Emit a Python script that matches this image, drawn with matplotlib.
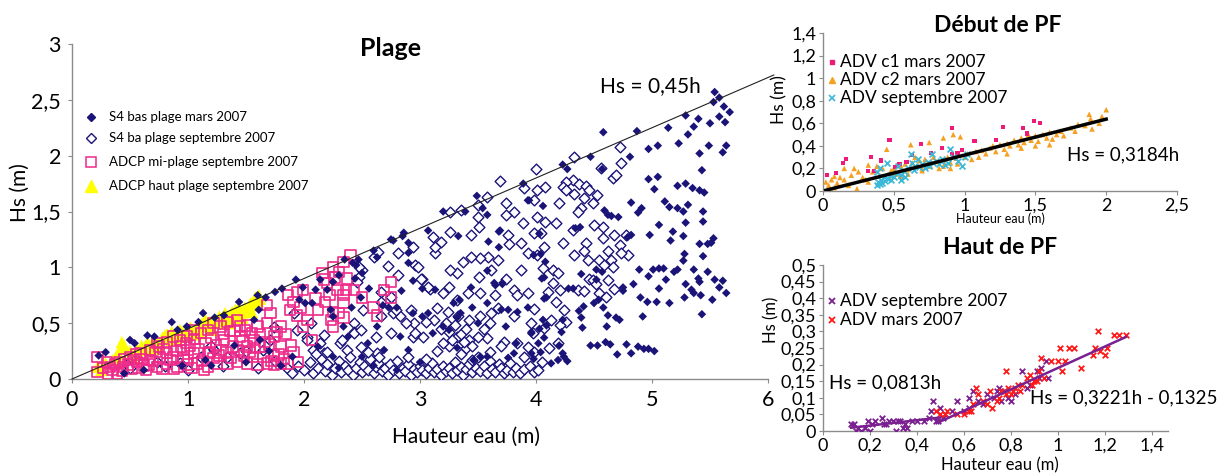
import numpy as np
import matplotlib
matplotlib.use("Agg")
import matplotlib.pyplot as plt
from matplotlib.lines import Line2D
from matplotlib.ticker import FuncFormatter

plt.rcParams['font.family'] = ['Lato', 'DejaVu Sans']

# ---------------- DATA: main chart "Plage" (h, Hs) ----------------
s4_mars = [
    (5.54,2.57),(5.58,2.52),(5.53,2.48),(5.62,2.44),(5.67,2.39),(5.58,2.35),(5.63,2.30),(5.50,2.29),
    (5.40,2.33),(5.36,2.26),(5.29,2.36),(5.14,2.25),(5.31,2.19),(5.23,2.11),(5.49,2.09),(5.64,2.09),
    (5.61,2.03),(5.41,2.02),(5.05,2.09),(4.97,2.06),(4.87,2.22),(4.58,2.21),(4.47,1.99),(4.81,1.99),
    (4.23,1.92),(4.27,1.88),(4.57,1.88),(5.43,1.87),(4.97,1.79),(5.05,1.81),(5.22,1.73),(5.29,1.75),
    (5.35,1.71),(5.41,1.69),(5.45,1.67),(5.02,1.70),(4.82,1.58),(5.11,1.59),(5.15,1.54),(5.22,1.53),
    (5.27,1.50),(5.31,1.56),(4.91,1.53),(4.88,1.49),(4.65,1.46),(4.71,1.45),(4.59,1.51),(5.06,1.38),
    (5.29,1.40),(5.44,1.50),(5.44,1.41),(5.18,1.32),(5.27,1.28),(5.16,1.24),(4.98,1.29),(5.53,1.26),
    (5.48,1.21),(5.41,1.21),(5.51,1.22),(5.28,1.12),(5.44,1.10),(5.27,1.06),(4.89,0.98),(5.01,0.98),
    (5.06,0.99),(5.10,0.99),(5.19,0.96),(5.22,0.98),(5.36,0.98),(5.48,0.96),(4.97,0.92),(5.12,0.89),
    (4.84,0.85),(5.29,0.85),(5.40,0.90),(5.41,0.87),(5.54,0.89),(5.61,0.88),(5.58,0.82),(5.06,0.81),
    (5.34,0.80),(5.36,0.77),(5.42,0.75),(5.64,0.77),(5.28,0.73),(5.15,0.68),(5.04,0.69),(4.96,0.69),
    (4.90,0.73),(5.52,0.71),(5.43,0.58),(4.92,0.56),(4.69,0.55),(4.72,0.53),(4.61,0.47),(4.39,0.55),
    (4.41,0.65),(4.50,0.68),(4.58,0.64),(4.75,0.82),(4.75,0.79),(4.57,0.96),(4.52,0.98),(4.39,0.94),
    (4.47,0.30),(4.53,0.30),(4.60,0.33),(4.64,0.31),(4.70,0.22),(4.78,0.31),(4.82,0.23),(4.88,0.29),
    (4.93,0.27),(4.97,0.27),(5.02,0.25),(4.20,0.30),(4.13,0.14),(4.19,0.17),(4.24,0.20),(4.27,0.16),
    (4.23,0.23),(4.02,0.32),(4.04,0.24),(3.98,0.18),(4.07,0.37),(4.06,0.53),(4.03,0.45),(4.09,0.48),
    (4.22,0.42),(4.23,0.53),(4.40,0.46),(4.62,0.57),(4.54,0.71),(4.37,0.61),(4.09,0.73),(4.07,0.72),
    (4.05,0.90),(4.07,0.91),(4.28,0.81),(4.32,0.81),(4.52,0.89),(4.62,1.47),(4.03,1.30),(4.04,1.12),
    (4.08,1.05),(4.06,1.55),(4.34,1.35),(4.38,1.36),(4.79,1.27),(4.82,1.29),
    (3.49,1.64),(3.20,1.50),(2.86,1.31),(2.77,1.24),(3.39,1.50),(3.58,1.47),(3.59,1.23),(3.68,1.32),
    (3.33,1.28),(3.89,1.75),(3.93,1.60),(2.90,1.13),(3.02,0.81),(2.94,0.88),(2.84,0.79),(2.80,0.64),
    (3.13,0.80),(3.44,0.82),(3.58,0.97),(3.64,0.86),(3.71,0.85),(3.32,0.55),(3.34,0.71),(3.02,0.56),
    (3.11,0.41),(3.25,0.44),(3.45,0.64),(3.50,0.50),(3.70,0.62),(3.76,0.62),(3.84,0.60),(3.93,0.64),
    (3.52,0.20),(3.76,0.19),(3.81,0.23),(3.96,0.41),
    (2.75,1.25),(3.07,1.33),(3.54,1.53),(3.69,1.33),(3.68,1.18),(3.94,1.60),(3.98,1.11),(2.90,1.22),
    (2.90,1.04),(2.47,1.07),(2.63,1.09),(2.56,0.81),(2.68,0.66),(2.73,0.64),(2.63,0.47),(2.69,0.26),
    (2.55,0.32),(2.50,0.20),(2.41,0.64),(2.49,0.73),(3.29,0.68),(3.35,0.59),(2.94,0.59),(2.83,0.38),
    (2.90,0.26),(3.07,0.59),(3.20,0.47),(3.58,0.68),(3.65,0.84),(3.71,0.86),(3.74,0.47),(3.96,0.42),
    (3.96,0.23),(3.83,0.32),(3.32,0.28),(3.46,0.17),(3.58,0.20),
    (2.30,0.93),(2.25,0.87),(2.20,0.80),(2.10,0.80),(2.42,1.04),(2.44,0.90),(2.14,0.89),(2.07,0.68),
    (2.23,0.62),(2.25,0.56),(2.34,0.47),(2.38,0.38),(2.12,0.29),(2.25,0.20),(2.35,1.07),(2.45,1.02),
    (2.50,0.95),(2.60,1.15),(2.85,1.28),
    (0.29,0.24),(0.23,0.21),(0.50,0.35),(0.54,0.32),(0.65,0.39),(0.71,0.38),(0.86,0.51),(0.91,0.44),
    (0.99,0.47),(1.13,0.59),(1.09,0.51),(1.23,0.55),(1.31,0.57),(1.44,0.69),(1.60,0.75),(1.67,0.73),
    (1.75,0.78),(1.81,0.81),(1.93,0.89),(1.99,0.82),(1.96,0.71),(2.01,0.68),(0.45,0.05),(1.61,0.62),
    (1.57,0.53),(1.15,0.17),(1.20,0.12),(1.50,0.15),(1.80,0.12),(1.90,0.20),(1.70,0.25),(1.62,0.35),
    (1.40,0.30),(2.30,0.10),(2.60,0.12),(2.80,0.08),(3.00,0.15),(0.62,0.08),(0.95,0.12),
]

s4_sept = [
    (4.00,1.88),(4.33,1.99),(4.72,2.08),(4.73,1.93),(4.66,1.80),(4.69,1.83),(4.56,1.89),(4.32,1.78),
    (4.26,1.76),(4.23,1.72),(4.37,1.75),(4.43,1.73),(4.46,1.69),(4.53,1.65),(4.49,1.58),(4.41,1.62),
    (4.33,1.66),(4.26,1.69),(4.20,1.58),(4.08,1.72),(4.01,1.69),(3.98,1.60),(4.39,1.53),(4.36,1.50),
    (4.58,1.36),(4.50,1.38),(4.32,1.33),(4.17,1.40),(4.08,1.41),(3.98,1.31),(4.01,1.45),(4.67,1.29),
    (4.78,1.29),(4.58,1.26),(4.72,1.20),(4.62,1.15),(4.79,1.11),(4.73,1.13),(4.43,1.22),(4.41,1.15),
    (4.33,1.11),(4.23,1.22),(4.07,1.18),(4.01,1.11),(4.54,1.07),(4.65,1.07),(4.66,1.00),(4.59,1.02),
    (4.45,1.07),(4.15,0.98),(4.19,0.95),(4.46,0.90),(4.49,0.89),(4.62,0.89),(4.52,0.85),(4.15,0.86),
    (4.21,0.80),(4.36,0.80),(4.41,0.79),(4.67,0.81),(4.54,0.77),(4.60,0.73),(4.17,0.69),(4.10,0.78),
    (4.24,0.62),(3.98,0.63),(4.13,0.53),(4.07,0.46),(4.26,0.51),(4.21,0.48),(4.19,0.32),(4.11,0.28),
    (3.98,0.24),(3.97,0.41),(4.06,0.99),(4.04,1.31),
    (3.69,1.77),(3.90,1.71),(3.58,1.63),(3.50,1.56),(3.26,1.50),(3.35,1.51),(3.50,1.45),(3.26,1.32),
    (3.11,1.27),(3.18,1.23),(3.44,1.29),(3.51,1.36),(3.74,1.58),(3.81,1.50),(3.74,1.47),(3.89,1.40),
    (3.76,1.29),(3.77,1.21),(3.59,1.09),(3.52,1.08),(3.67,1.07),(3.44,1.09),(3.37,1.05),(3.32,0.95),
    (3.26,0.98),(3.13,1.13),(3.13,1.18),(2.94,1.18),(2.96,1.02),(3.02,0.90),(3.09,0.81),(3.25,0.82),
    (3.20,0.77),(3.32,0.71),(3.51,0.91),(3.61,0.98),(3.74,0.90),(3.81,0.80),(3.87,0.98),(3.93,1.13),
    (3.87,1.22),(3.41,0.77),(3.52,0.77),(3.65,0.75),(3.84,0.75),(3.93,0.77),(3.81,0.56),(3.67,0.64),
    (3.61,0.59),(3.52,0.56),(3.42,0.53),(3.33,0.56),(3.24,0.60),(3.15,0.64),(3.12,0.53),(3.05,0.51),
    (2.95,0.50),(2.83,0.56),(2.77,0.59),(3.03,0.38),(2.94,0.38),(3.32,0.38),(3.42,0.35),(3.58,0.37),
    (3.72,0.33),(3.84,0.32),(3.93,0.29),(3.96,0.50),
    (2.60,1.09),(2.64,1.14),(2.81,1.13),(2.72,1.01),(2.81,0.93),(2.98,1.00),(3.01,0.90),(3.07,0.82),
    (2.66,0.78),(2.47,0.91),(2.50,0.98),(2.46,0.87),(2.66,0.69),(2.75,0.73),(2.79,0.62),(2.66,0.56),
    (2.51,0.62),(2.43,0.50),(2.92,0.62),(2.88,0.50),(2.96,0.41),(2.75,0.41),(2.62,0.38),(2.43,0.42),
    (2.31,0.32),(2.14,0.32),(2.17,0.39),(2.06,0.50),(2.03,0.38),(2.49,0.29),(2.63,0.23),(2.37,0.26),
    (2.47,1.00),
    (2.33,0.35),(2.43,0.41),(2.49,0.44),(2.17,0.23),(2.08,0.26),(2.03,0.35),(1.94,0.44),(1.91,0.59),
    (1.74,0.47),(1.71,0.35),(1.65,0.26),(1.45,0.23),(1.34,0.20),(1.22,0.26),(1.11,0.20),(0.93,0.14),
    (0.73,0.15),(0.47,0.13),(0.50,0.10),(0.80,0.12),(1.00,0.08),(1.30,0.12),(1.60,0.10),(1.75,0.16),
    (1.85,0.10),(1.90,0.05),(1.20,0.30),(1.50,0.25),
    (1.95,0.12),(2.00,0.08),(2.05,0.15),(2.08,0.05),(2.12,0.10),(2.15,0.18),(2.18,0.07),(2.20,0.13),
    (2.24,0.04),(2.27,0.10),(2.30,0.16),(2.32,0.06),(2.35,0.12),(2.38,0.08),(2.40,0.20),(2.42,0.04),
    (2.45,0.10),(2.48,0.15),(2.50,0.06),(2.52,0.12),(2.55,0.08),(2.57,0.18),(2.60,0.05),(2.62,0.11),
    (2.64,0.14),(2.67,0.07),(2.70,0.10),(2.72,0.04),(2.74,0.13),(2.77,0.08),(2.80,0.16),(2.82,0.05),
    (2.85,0.10),(2.87,0.07),(2.90,0.13),(2.92,0.04),(2.95,0.09),(2.97,0.06),(3.00,0.12),(3.02,0.08),
    (3.05,0.05),(3.08,0.10),(3.10,0.14),(3.12,0.06),(3.15,0.09),(3.18,0.04),(3.20,0.12),(3.22,0.07),
    (3.25,0.10),(3.28,0.05),(3.30,0.15),(3.32,0.08),(3.35,0.11),(3.37,0.04),(3.40,0.09),(3.42,0.13),
    (3.45,0.06),(3.48,0.10),(3.50,0.20),(3.52,0.07),(3.55,0.12),(3.58,0.05),(3.60,0.16),(3.62,0.09),
    (3.65,0.06),(3.68,0.13),(3.70,0.10),(3.72,0.05),(3.75,0.08),(3.78,0.14),(3.80,0.06),(3.83,0.10),
    (3.86,0.05),(3.90,0.09),(3.95,0.12),(3.98,0.06),(4.02,0.08),(4.05,0.15),(2.10,0.22),(2.55,0.24),
    (2.90,0.20),(3.35,0.22),(3.60,0.24),(2.65,0.20),(2.20,0.24),(3.05,0.18),(3.45,0.17),(3.90,0.20),
    (3.15,0.25),(3.25,0.30),(3.40,0.28),(3.70,0.30),
    (3.18,0.45),(3.22,0.50),(3.25,0.42),(3.28,0.35),(3.30,0.48),(3.35,0.40),(3.38,0.33),(3.40,0.45),
    (3.20,0.32),(3.45,0.30),(3.50,0.38),(3.55,0.45),(3.60,0.50),
]

adcp_mi = [
    (2.40,1.11),(2.34,1.05),(2.25,1.00),(2.30,0.96),(2.16,0.95),(2.17,0.89),(2.20,0.86),(2.37,0.90),
    (2.29,0.80),(2.36,0.80),(2.43,0.80),(2.34,0.75),(2.50,0.73),(2.18,0.69),(2.34,0.68),(2.25,0.60),
    (2.30,0.59),(2.34,0.55),(2.23,0.53),(2.25,0.47),(2.75,0.87),(2.69,0.80),(2.75,0.73),(2.60,0.64),
    (2.63,0.57),(2.07,0.35),(1.99,0.80),(1.94,0.78),(1.86,0.75),(1.91,0.69),(1.88,0.62),(1.94,0.57),
    (2.03,0.53),(1.99,0.47),(1.80,0.47),(1.74,0.38),(1.80,0.29),(1.86,0.14),(1.80,0.14),(1.74,0.13),
    (1.68,0.14),(1.68,0.66),(1.71,0.59),(1.68,0.50),(1.60,0.47),(1.57,0.35),(1.62,0.29),(1.51,0.48),
    (1.45,0.47),(1.42,0.53),(1.34,0.51),(1.28,0.47),(1.22,0.50),(1.17,0.44),(1.11,0.41),(1.05,0.44),
    (0.99,0.38),(0.93,0.35),(0.87,0.38),(0.82,0.33),(0.73,0.32),(0.67,0.26),(0.59,0.23),(0.50,0.20),
    (0.41,0.15),(0.33,0.11),(0.22,0.20),(0.22,0.06),(0.30,0.15),(0.39,0.05),(0.48,0.13),(0.57,0.10),
    (0.64,0.08),(0.73,0.11),(0.82,0.14),(0.91,0.11),(0.99,0.13),(1.08,0.14),(1.17,0.11),(1.25,0.14),
    (1.34,0.14),(1.42,0.15),(1.51,0.14),(1.60,0.13),(1.05,0.23),(1.17,0.23),(1.28,0.26),(1.39,0.29),
    (1.51,0.29),(1.31,0.35),(1.45,0.38),(0.96,0.26),(0.82,0.23),(0.67,0.17),(0.56,0.15),(0.44,0.11),
    (0.76,0.20),(0.87,0.20),(0.96,0.19),(1.22,0.19),(1.48,0.21),(1.56,0.20),(1.74,0.21),(1.91,0.24),
    (0.35,0.08),(0.45,0.18),(0.55,0.22),(0.62,0.12),(0.70,0.16),(0.78,0.09),(0.85,0.17),(0.90,0.25),
    (1.00,0.17),(1.02,0.30),(1.12,0.16),(1.15,0.32),(1.20,0.37),(1.27,0.21),(1.30,0.40),(1.37,0.19),
    (1.40,0.43),(1.47,0.34),(1.55,0.41),(1.53,0.24),(1.65,0.20),(1.70,0.31),(1.78,0.22),(1.84,0.40),
    (1.97,0.64),(2.10,0.72),(2.12,0.62),(2.22,0.75),(2.27,0.91),
    (0.27,0.10),(0.31,0.05),(0.37,0.13),(0.43,0.07),(0.52,0.09),(0.60,0.18),(0.66,0.13),(0.72,0.24),
    (0.79,0.27),(0.88,0.09),(0.94,0.29),(1.03,0.10),(1.09,0.27),(1.14,0.08),(1.24,0.30),(1.19,0.24),
    (1.33,0.24),(1.36,0.43),(1.43,0.26),(1.49,0.44),(1.58,0.28),(1.62,0.40),(1.66,0.33),(1.72,0.16),
    (1.77,0.42),(1.83,0.18),(1.89,0.30),(1.95,0.15),(1.05,0.36),(0.98,0.32),(0.75,0.29),(0.53,0.17),
]

adcp_haut = [
    (0.22,0.11),(0.43,0.33),(0.56,0.26),(0.60,0.30),(0.69,0.32),(0.78,0.37),(0.80,0.39),(0.86,0.42),
    (0.93,0.44),(1.02,0.46),(1.10,0.48),(1.15,0.53),(1.19,0.51),(1.27,0.56),(1.32,0.59),(1.36,0.57),
    (1.41,0.62),(1.44,0.64),(1.49,0.64),(1.54,0.68),(1.58,0.73),(1.61,0.75),(1.55,0.60),(1.47,0.55),
    (1.36,0.50),(1.21,0.44),(1.10,0.41),(0.98,0.38),(0.86,0.35),(0.75,0.30),(0.63,0.26),(0.54,0.20),
    (0.46,0.15),(0.35,0.17),(0.29,0.14),(0.25,0.08),(0.40,0.22),(0.70,0.27),(0.90,0.37),(1.05,0.40),
    (1.25,0.50),(1.40,0.55),(1.52,0.63),
    (0.45,0.30),(0.50,0.25),(0.65,0.33),(0.72,0.35),(0.82,0.40),(0.95,0.42),(1.00,0.43),(1.08,0.47),
    (1.12,0.50),(1.18,0.47),(1.23,0.52),(1.30,0.55),(1.33,0.52),(1.38,0.60),(1.45,0.58),(1.50,0.60),
    (1.57,0.66),(1.60,0.70),(1.62,0.72),(0.42,0.28),(0.38,0.20),
]

# ---------------- DATA: "Début de PF" ----------------
adv_c1_mars = [
    (0.03,0.14),(0.09,0.16),(0.14,0.25),(0.16,0.28),(0.34,0.30),(0.32,0.18),(0.36,0.18),(0.47,0.45),
    (0.54,0.24),(0.59,0.26),(0.69,0.42),(0.76,0.34),(0.91,0.56),(0.95,0.34),(0.91,0.33),(1.22,0.45),
    (1.27,0.57),(1.41,0.56),(1.49,0.62),(1.53,0.60),(1.44,0.51),(0.41,0.27),(0.51,0.21),(0.63,0.32),
    (0.84,0.38),(1.07,0.44),(0.98,0.36),
]
adv_c2_mars = [
    (0.02,0.08),(0.04,0.05),(0.06,0.10),(0.08,0.03),(0.10,0.07),(0.12,0.12),(0.15,0.10),(0.18,0.05),
    (0.20,0.14),(0.22,0.20),(0.24,0.02),(0.25,0.17),(0.28,0.12),(0.30,0.10),(0.32,0.23),(0.35,0.17),
    (0.38,0.22),(0.40,0.14),(0.42,0.20),(0.45,0.37),(0.48,0.18),(0.50,0.20),(0.52,0.15),(0.55,0.22),
    (0.58,0.24),(0.60,0.19),(0.62,0.41),(0.63,0.25),(0.65,0.30),(0.66,0.22),(0.68,0.27),(0.70,0.20),
    (0.72,0.28),(0.74,0.25),(0.75,0.43),(0.76,0.22),(0.78,0.30),(0.80,0.26),(0.82,0.20),(0.84,0.28),
    (0.85,0.47),(0.86,0.24),(0.88,0.30),(0.90,0.25),(0.92,0.50),(0.94,0.29),(0.95,0.24),(0.97,0.48),
    (1.00,0.30),(1.02,0.33),(1.05,0.28),(1.08,0.35),(1.10,0.30),(1.12,0.36),(1.15,0.33),(1.18,0.38),
    (1.20,0.40),(1.22,0.35),(1.25,0.41),(1.28,0.37),(1.30,0.42),(1.32,0.40),(1.35,0.45),(1.38,0.41),
    (1.40,0.47),(1.42,0.43),(1.45,0.50),(1.47,0.45),(1.50,0.49),(1.52,0.44),(1.55,0.50),(1.58,0.47),
    (1.60,0.52),(1.62,0.46),(1.65,0.50),(1.68,0.53),(1.70,0.49),(1.75,0.56),(1.78,0.53),(1.80,0.59),
    (1.85,0.58),(1.88,0.68),(1.89,0.64),(1.90,0.55),(1.95,0.60),(2.00,0.72),(1.97,0.66),(1.60,0.41),
    (1.50,0.40),(1.30,0.33),(1.40,0.38),(0.50,0.13),(0.55,0.13),(0.70,0.18),(0.85,0.22),(0.90,0.20),
    (0.60,0.15),(0.15,0.20),(0.32,0.08),(0.08,0.13),
]
adv_sept_debut = [
    (0.38,0.05),(0.39,0.08),(0.40,0.06),(0.41,0.10),(0.42,0.07),(0.43,0.12),(0.44,0.09),(0.45,0.25),
    (0.46,0.11),(0.47,0.14),(0.48,0.10),(0.50,0.12),(0.52,0.16),(0.53,0.22),(0.55,0.14),(0.57,0.18),
    (0.60,0.20),(0.62,0.33),(0.63,0.25),(0.64,0.19),(0.65,0.22),(0.67,0.28),(0.68,0.21),(0.70,0.24),
    (0.72,0.20),(0.74,0.26),(0.75,0.22),(0.77,0.33),(0.78,0.25),(0.80,0.27),(0.82,0.24),(0.84,0.28),
    (0.86,0.23),(0.88,0.25),(0.90,0.37),(0.92,0.30),(0.95,0.27),(0.98,0.22),(1.00,0.30),(1.02,0.33),
    (0.55,0.10),(0.58,0.12),(0.38,0.17),(0.40,0.20),
]
debut_slope = 0.3184
debut_fit_h = [0.02, 2.0]

# ---------------- DATA: "Haut de PF" ----------------
haut_sept = [
    (0.13,0.02),(0.14,0.00),(0.15,0.01),(0.19,0.03),(0.20,0.00),(0.21,0.02),(0.22,0.03),(0.25,0.04),
    (0.26,0.02),(0.27,0.02),(0.28,0.03),(0.30,0.03),(0.31,0.00),(0.32,0.03),(0.33,0.03),(0.34,0.01),
    (0.35,0.02),(0.36,0.01),(0.38,0.03),(0.40,0.03),(0.43,0.03),(0.45,0.04),(0.46,0.06),(0.47,0.09),
    (0.48,0.03),(0.49,0.03),(0.50,0.07),(0.51,0.04),(0.52,0.05),(0.55,0.06),(0.57,0.09),(0.60,0.06),
    (0.62,0.10),(0.62,0.07),(0.64,0.12),(0.66,0.09),(0.68,0.08),(0.70,0.11),(0.73,0.10),(0.74,0.12),
    (0.75,0.13),(0.76,0.09),(0.77,0.12),(0.79,0.10),(0.80,0.09),(0.82,0.11),(0.85,0.18),(0.87,0.13),
    (0.88,0.14),(0.91,0.18),(0.92,0.16),(0.93,0.19),(0.95,0.21),(0.96,0.16),(0.12,0.02),(0.16,0.00),
    (0.18,0.01),
]
haut_mars = [
    (0.48,0.06),(0.50,0.05),(0.52,0.05),(0.53,0.06),(0.57,0.05),(0.60,0.05),(0.62,0.06),(0.63,0.06),
    (0.64,0.08),(0.65,0.13),(0.66,0.11),(0.68,0.09),(0.70,0.08),(0.71,0.12),(0.72,0.07),(0.74,0.09),
    (0.75,0.10),(0.76,0.12),(0.78,0.18),(0.78,0.11),(0.79,0.13),(0.80,0.11),(0.81,0.12),(0.82,0.13),
    (0.83,0.14),(0.84,0.12),(0.85,0.14),(0.87,0.16),(0.88,0.17),(0.89,0.14),(0.90,0.15),(0.91,0.15),
    (0.92,0.18),(0.93,0.22),(0.94,0.16),(0.97,0.21),(1.00,0.21),(1.02,0.18),(1.03,0.21),(1.01,0.25),
    (1.05,0.25),(1.07,0.25),(1.10,0.19),(1.15,0.23),(1.16,0.25),(1.17,0.30),(1.18,0.24),(1.20,0.23),
    (1.21,0.25),(1.24,0.29),(1.26,0.29),(1.29,0.29),
]
haut_fit1_slope = 0.0813
haut_fit1_h = [0.12, 0.50]
haut_fit2_slope, haut_fit2_icpt = 0.3221, -0.1325
haut_fit2_h = [0.50, 1.29]

main_xticks = [0, 1, 2, 3, 4, 5, 6]
main_yticks = [0, 0.5, 1, 1.5, 2, 2.5, 3]
envelope_slope = 0.45

# ---------------- STYLE ----------------
W, H = 1226, 473
NAVY = '#1b1478'
PINK = '#ee2a8a'
YEL = '#ffff00'
ORANGE = '#f5a020'
CYAN = '#3ab8d8'
MAG = '#ee1a7a'
PURPLE = '#7a2090'
RED = '#ff1a1a'
SPINE = '#8c8c8c'

def comma(v, pos=None):
    s = ('%g' % round(v, 3))
    return s.replace('.', ',')

fig = plt.figure(figsize=(W/100, H/100), dpi=100)

def fx(px):
    return px / W

def fy(py):
    return 1 - py / H

def style(ax, fs, pad=4):
    for s in ['top', 'right']:
        ax.spines[s].set_visible(False)
    for s in ['left', 'bottom']:
        ax.spines[s].set_color(SPINE)
        ax.spines[s].set_linewidth(1.0)
    ax.tick_params(colors=SPINE, labelcolor='black', labelsize=fs, length=3, width=0.8, pad=pad)
    ax.xaxis.set_major_formatter(FuncFormatter(comma))
    ax.yaxis.set_major_formatter(FuncFormatter(comma))

# ---- main axes ----
ax = fig.add_axes([fx(72), fy(379), fx(768 - 72), (379 - 44) / H])
a = np.array(adcp_haut); ax.scatter(a[:, 0], a[:, 1], marker='^', s=80, color=YEL, edgecolors='none', zorder=2)
a = np.array(s4_sept); ax.scatter(a[:, 0], a[:, 1], marker='D', s=30, facecolors='white', edgecolors=NAVY, linewidths=1.0, zorder=3)
a = np.array(adcp_mi); ax.scatter(a[:, 0], a[:, 1], marker='s', s=55, facecolors='none', edgecolors=PINK, linewidths=1.2, zorder=4)
a = np.array(s4_mars); ax.scatter(a[:, 0], a[:, 1], marker='D', s=19, color=NAVY, edgecolors='none', zorder=5)
hx = np.array([0, 6.05])
ax.plot(hx, envelope_slope * hx, color='#222222', lw=0.8, zorder=6, clip_on=False)
ax.set_xlim(0, 6)
ax.set_ylim(0, 3)
ax.set_xticks(main_xticks)
ax.set_yticks(main_yticks)
style(ax, 15.5, pad=5)
ax.tick_params(axis='x', pad=5)

fig.text(fx(390), fy(48), 'Plage', fontsize=18, fontweight='bold', ha='center', va='center')
fig.text(fx(650), fy(86), 'Hs = 0,45h', fontsize=15, ha='center', va='center')
fig.text(fx(20), fy(193), 'Hs (m)', fontsize=15, rotation=90, ha='center', va='center')
fig.text(fx(466), fy(437), 'Hauteur eau (m)', fontsize=15, ha='center', va='center')

leg_rows = [
    (117, 'D', dict(color=NAVY, markersize=4.5), 'S4 bas plage mars 2007'),
    (138, 'D', dict(markerfacecolor='white', markeredgecolor=NAVY, markersize=5.5, markeredgewidth=1.0), 'S4 ba plage septembre 2007'),
    (162, 's', dict(markerfacecolor='none', markeredgecolor=PINK, markersize=6.5, markeredgewidth=1.1), 'ADCP mi-plage septembre 2007'),
    (186, '^', dict(color=YEL, markersize=8), 'ADCP haut plage septembre 2007'),
]
for py, m, kw, lab in leg_rows:
    fig.add_artist(Line2D([fx(91)], [fy(py)], marker=m, linestyle='none', transform=fig.transFigure, **kw))
    fig.text(fx(109), fy(py), lab, fontsize=9.5, ha='left', va='center')

# ---- Début de PF ----
ax2 = fig.add_axes([fx(823), fy(191), fx(1177 - 823), (191 - 33) / H])
a = np.array(adv_c2_mars); ax2.scatter(a[:, 0], a[:, 1], marker='^', s=16, color=ORANGE, edgecolors='none', zorder=3)
a = np.array(adv_c1_mars); ax2.scatter(a[:, 0], a[:, 1], marker='s', s=9, color=MAG, edgecolors='none', zorder=3)
a = np.array(adv_sept_debut); ax2.scatter(a[:, 0], a[:, 1], marker='x', s=18, color=CYAN, linewidths=1.2, zorder=4)
fh = np.array(debut_fit_h)
ax2.plot(fh, debut_slope * fh, color='black', lw=2.5, zorder=5)
ax2.set_xlim(0, 2.5)
ax2.set_ylim(0, 1.4)
ax2.set_xticks([0, 0.5, 1, 1.5, 2, 2.5])
ax2.set_yticks([0, 0.2, 0.4, 0.6, 0.8, 1.0, 1.2, 1.4])
style(ax2, 13, pad=2)
fig.text(fx(998), fy(25), 'Début de PF', fontsize=16.5, fontweight='bold', ha='center', va='center')
fig.text(fx(1067), fy(155), 'Hs = 0,3184h', fontsize=13.5, ha='left', va='center')
fig.text(fx(1000), fy(219), 'Hauteur eau (m)', fontsize=9, ha='center', va='center')
fig.text(fx(779), fy(100), 'Hs (m)', fontsize=12.5, rotation=90, ha='center', va='center')
rows2 = [
    (62, 's', dict(color=MAG, markersize=2.8), 'ADV c1 mars 2007'),
    (80, '^', dict(color=ORANGE, markersize=3.8), 'ADV c2 mars 2007'),
    (98, 'x', dict(color=CYAN, markersize=3.8, markeredgewidth=1.2), 'ADV septembre 2007'),
]
for py, m, kw, lab in rows2:
    fig.add_artist(Line2D([fx(832)], [fy(py)], marker=m, linestyle='none', transform=fig.transFigure, **kw))
    fig.text(fx(840), fy(py), lab, fontsize=12.5, ha='left', va='center')

# ---- Haut de PF ----
ax3 = fig.add_axes([fx(823), fy(431), fx(1168 - 823), (431 - 265) / H])
a = np.array(haut_sept); ax3.scatter(a[:, 0], a[:, 1], marker='x', s=16, color=PURPLE, linewidths=1.3, zorder=3)
a = np.array(haut_mars); ax3.scatter(a[:, 0], a[:, 1], marker='x', s=16, color=RED, linewidths=1.3, zorder=3)
f1 = np.array(haut_fit1_h)
ax3.plot(f1, haut_fit1_slope * f1, color=PURPLE, lw=1.8, zorder=4)
f2 = np.array(haut_fit2_h)
ax3.plot(f2, haut_fit2_slope * f2 + haut_fit2_icpt, color=PURPLE, lw=1.8, zorder=4)
ax3.set_xlim(0, 1.47)
ax3.set_ylim(0, 0.5)
ax3.set_xticks([0, 0.2, 0.4, 0.6, 0.8, 1.0, 1.2, 1.4])
ax3.set_yticks([0, 0.05, 0.1, 0.15, 0.2, 0.25, 0.3, 0.35, 0.4, 0.45, 0.5])
style(ax3, 13, pad=2)
fig.text(fx(1000), fy(247), 'Haut de PF', fontsize=16.5, fontweight='bold', ha='center', va='center')
fig.text(fx(829), fy(383), 'Hs = 0,0813h', fontsize=13.5, ha='left', va='center')
fig.text(fx(1030), fy(398), 'Hs = 0,3221h - 0,1325', fontsize=13.5, ha='left', va='center')
fig.text(fx(1000), fy(465), 'Hauteur eau (m)', fontsize=12, ha='center', va='center')
fig.text(fx(771), fy(320), 'Hs (m)', fontsize=12, rotation=90, ha='center', va='center')
rows3 = [
    (301, 'x', dict(color=PURPLE, markersize=3.8, markeredgewidth=1.3), 'ADV septembre 2007'),
    (320, 'x', dict(color=RED, markersize=3.8, markeredgewidth=1.3), 'ADV mars 2007'),
]
for py, m, kw, lab in rows3:
    fig.add_artist(Line2D([fx(832)], [fy(py)], marker=m, linestyle='none', transform=fig.transFigure, **kw))
    fig.text(fx(840), fy(py), lab, fontsize=12.5, ha='left', va='center')

fig.savefig('out.png', dpi=100)
